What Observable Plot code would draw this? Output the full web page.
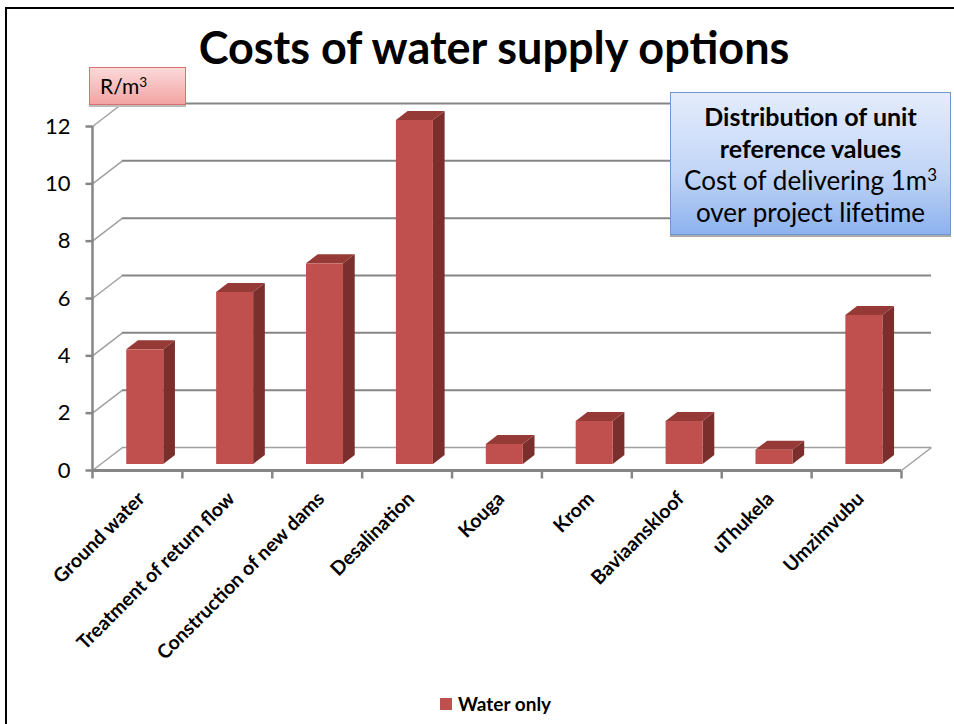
<!DOCTYPE html>
<html><head><meta charset="utf-8">
<script src="https://cdn.jsdelivr.net/npm/d3@7"></script>
<script src="https://cdn.jsdelivr.net/npm/@observablehq/plot@0.6"></script>
<style>
body{margin:0;background:#fff;font-family:Lato,"Open Sans",sans-serif;}
#wrap{position:relative;width:954px;height:724px;overflow:hidden;background:#fff;}
#frame{position:absolute;left:5px;top:7px;width:980px;height:740px;border-top:2px solid #000;border-left:2px solid #000;}
#chart{position:absolute;left:0;top:0;}
#title{position:absolute;left:0;width:988px;top:19px;text-align:center;font-weight:bold;font-size:45px;color:#000;line-height:56px;}
#unit{position:absolute;left:89px;top:67px;width:97px;height:38px;box-sizing:border-box;border:1px solid #d9716f;background:linear-gradient(#fbd9d9,#f3a3a3);box-shadow:0 2px 0 #bbb;font-size:21px;line-height:36px;padding-left:10px;color:#000;}
#note{position:absolute;left:670px;top:92px;width:281px;height:143px;box-sizing:border-box;border:1px solid #7096d2;background:linear-gradient(#e4ecfc,#c3d6f7 55%,#8db2ee);box-shadow:0 2px 0 #aaa;text-align:center;font-size:26px;line-height:32px;padding-top:7px;color:#000;white-space:nowrap;}
#note b{font-weight:bold;font-size:25px;}
#legend{position:absolute;left:440px;top:692px;font-size:19px;font-weight:bold;display:flex;align-items:center;color:#000;}
#legend span.sw{display:inline-block;width:12px;height:12px;background:#C0504D;margin-right:6px;}
sup{font-size:0.65em;vertical-align:0.55em;line-height:0;}
</style>
</head><body>
<div id="wrap">
  <div id="chart"></div>
  <div id="frame"></div>
  <div id="title">Costs of water supply options</div>
  <div id="unit">R/m<sup>3</sup></div>
  <div id="note"><b>Distribution of unit<br>reference values</b><br>Cost of delivering 1m<sup>3</sup><br>over project lifetime</div>
  <div id="legend"><span class="sw"></span><span id="legendText"></span></div>
</div>
<script>
// ---- data ----
const categories = ["Ground water", "Treatment of return flow", "Construction of new dams", "Desalination", "Kouga", "Krom", "Baviaanskloof", "uThukela", "Umzimvubu"];
const costs = [4, 6, 7, 12, 0.7, 1.5, 1.5, 0.5, 5.2];
const yTicks = [0, 2, 4, 6, 8, 10, 12];
const seriesName = "Water only";

// ---- layout ----
const W = 954, H = 724, mL = 92, mR = 53, mT = 126, mB = 254;
const yMax = 12;
const n = categories.length;
const kx = (W - mL - mR) / n;          // px per category
const ky = (H - mT - mB) / yMax;       // px per unit
const WALL = {x: 30, y: 23};           // back wall depth (px)
const PLANE = {x: 7.8, y: 6};          // bar front plane offset (px)
const DEPTH = {x: 11.7, y: 9};         // bar depth (px)
const HALF = 18.5 / kx;                // half bar width (band units)
const FRONT = "#C0504D", SIDE = "#7a2f2d", TOP = "#953a37", GRID = "#868686", DIAG = "#a0a0a0";

const bars = categories.map((c, i) => ({c, i, v: costs[i], x1: i + 0.5 - HALF, x2: i + 0.5 + HALF}));
const bdx = DEPTH.x / kx, bdy = DEPTH.y / ky;
const side = bars.flatMap(b => [{c: b.c, x: b.x2, y1: 0, y2: b.v}, {c: b.c, x: b.x2 + bdx, y1: bdy, y2: b.v + bdy}]);
const topF = bars.flatMap(b => [{c: b.c, y: b.v, x1: b.x1, x2: b.x2}, {c: b.c, y: b.v + bdy, x1: b.x1 + bdx, x2: b.x2 + bdx}]);
const wx = WALL.x / kx, wy = WALL.y / ky;

const plot = Plot.plot({
  width: W, height: H,
  marginLeft: mL, marginRight: mR, marginTop: mT, marginBottom: mB,
  style: {background: "transparent", overflow: "visible"},
  x: {domain: [0, n], axis: null},
  y: {domain: [0, yMax], axis: null},
  marks: [
    Plot.link(yTicks, {x1: 0, y1: d => d, x2: wx, y2: d => d + wy, stroke: DIAG, strokeWidth: 1.5}),
    Plot.ruleY(yTicks.filter(d => d > 0), {y: d => d + wy, x1: wx, x2: n + wx, stroke: GRID, strokeWidth: 2}),
    Plot.ruleY([0], {y: d => d + wy, x1: wx, x2: n + wx, stroke: DIAG, strokeWidth: 1.5}),
    Plot.link([n], {x1: d => d, y1: 0, x2: d => d + wx, y2: wy, stroke: DIAG, strokeWidth: 1.5}),
    Plot.ruleY([0], {x1: 0, x2: n, stroke: GRID, strokeWidth: 3}),
    Plot.ruleX([0], {y1: 0, y2: yMax, stroke: GRID, strokeWidth: 2.5}),
    Plot.link(d3.range(n + 1), {x1: d => d, x2: d => d, y1: 0, y2: -8 / ky, stroke: GRID, strokeWidth: 2.5}),
    Plot.link(yTicks, {x1: -7 / kx, x2: 0, y1: d => d, y2: d => d, stroke: GRID, strokeWidth: 2.5}),
    Plot.text(yTicks, {x: -22 / kx, y: d => d, text: d => String(d), textAnchor: "end", fontSize: 22, fill: "#000"}),
    Plot.areaY(side, {x: "x", y1: "y1", y2: "y2", z: "c", fill: SIDE, dx: PLANE.x, dy: -PLANE.y}),
    Plot.areaX(topF, {y: "y", x1: "x1", x2: "x2", z: "c", fill: TOP, dx: PLANE.x, dy: -PLANE.y}),
    Plot.rect(bars, {x1: "x1", x2: "x2", y1: 0, y2: "v", fill: FRONT, dx: PLANE.x, dy: -PLANE.y}),
    Plot.text(bars, {x: d => d.i + 0.5 + 4 / kx, y: -25 / ky, text: "c", rotate: -45, textAnchor: "end", fontSize: 19.5, fontWeight: "bold", fill: "#000"})
  ]
});
plot.style.fontFamily = "Lato, 'Open Sans', sans-serif";
document.getElementById("chart").appendChild(plot);
document.getElementById("legendText").textContent = seriesName;
</script>
</body></html>
